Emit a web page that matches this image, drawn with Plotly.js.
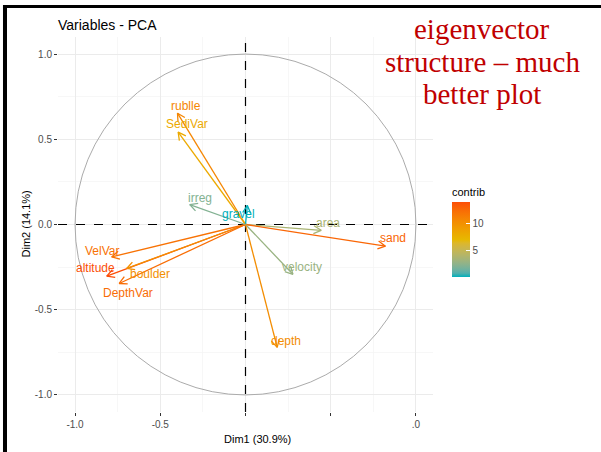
<!DOCTYPE html>
<html>
<head>
<meta charset="utf-8">
<script src="https://cdn.plot.ly/plotly-3.0.1.min.js"></script>
<style>html,body{margin:0;padding:0;background:#fff}#chart{width:601px;height:452px}</style>
</head>
<body>
<div id="chart"></div>
<script>
// ---- data ----
const variables = ['VelVar','altitude','boulder','DepthVar','rublle','SediVar','irreg','gravel','area','sand','velocity','depth'];
const dim1 = [-0.785,-0.814,-0.697,-0.741,-0.399,-0.395,-0.327,0.011,0.444,0.821,0.278,0.186];
const dim2 = [-0.190,-0.303,-0.258,-0.346,0.653,0.542,0.117,0.112,-0.034,-0.127,-0.292,-0.721];
const contrib = [12.1,14.0,10.2,12.4,10.8,8.3,2.2,0.2,3.7,12.8,3.0,10.3];
const xTickVals = [-1,-0.5,0,0.5,1];
const xTickText = ['-1.0','-0.5','','','.0'];
const yTickVals = [-1,-0.5,0,0.5,1];
const yTickText = ['-1.0','-0.5','0.0','0.5','1.0'];
const cbTicks = [5,10];

// ---- layout helpers (pixel nudges for labels, not data) ----
const labelShift = [[-10,6],[-11,8],[23,-6],[9,-10],[9,7],[9,8],[10,7],[-9,-9],[7,7],[8,8],[9,7],[9,6]];

const anchorCols = ['#00AFBB','#E7B800','#FC4E07'];
const cmin = Math.min(...contrib), cmax = Math.max(...contrib);

// Lab interpolation (as ggplot's gradient palette)
function hex2rgb(h){return [parseInt(h.slice(1,3),16),parseInt(h.slice(3,5),16),parseInt(h.slice(5,7),16)];}
function lin(c){c/=255;return c<=0.04045?c/12.92:Math.pow((c+0.055)/1.055,2.4);}
function unlin(c){const v=c<=0.0031308?12.92*c:1.055*Math.pow(c,1/2.4)-0.055;return Math.round(Math.max(0,Math.min(1,v))*255);}
const WN=[0.95047,1,1.08883];
function f(t){return t>Math.pow(6/29,3)?Math.cbrt(t):t/(3*Math.pow(6/29,2))+4/29;}
function finv(t){return t>6/29?t*t*t:3*Math.pow(6/29,2)*(t-4/29);}
function rgb2lab(rgb){const [r,g,b]=rgb.map(lin);
  const X=0.4124*r+0.3576*g+0.1805*b,Y=0.2126*r+0.7152*g+0.0722*b,Z=0.0193*r+0.1192*g+0.9505*b;
  const fx=f(X/WN[0]),fy=f(Y/WN[1]),fz=f(Z/WN[2]);return [116*fy-16,500*(fx-fy),200*(fy-fz)];}
function lab2rgb(lab){const fy=(lab[0]+16)/116,fx=fy+lab[1]/500,fz=fy-lab[2]/200;
  const X=WN[0]*finv(fx),Y=WN[1]*finv(fy),Z=WN[2]*finv(fz);
  const r=3.2406*X-1.5372*Y-0.4986*Z,g=-0.9689*X+1.8758*Y+0.0415*Z,b=0.0557*X-0.2040*Y+1.0570*Z;
  return [unlin(r),unlin(g),unlin(b)];}
const anchorLab = anchorCols.map(c=>rgb2lab(hex2rgb(c)));
function colorAt(t){
  t=Math.max(0,Math.min(1,t));
  const n=anchorLab.length-1, seg=Math.min(n-1,Math.floor(t*n)), fr=t*n-seg;
  const a=anchorLab[seg],b=anchorLab[seg+1];
  const rgb=lab2rgb(a.map((x,k)=>x+(b[k]-x)*fr));
  return 'rgb('+rgb.join(',')+')';
}
function colorFor(v){return colorAt((v-cmin)/(cmax-cmin));}
const colorscale=[];for(let i=0;i<=20;i++){colorscale.push([i/20,colorAt(i/20)]);}

const traces = [];
const annotations = [];
const headLen = 0.05, headAng = 28*Math.PI/180;
variables.forEach((name,i)=>{
  const tx=dim1[i], ty=dim2[i];
  const r=Math.hypot(tx,ty), dx=tx/r, dy=ty/r;
  const w=(a)=>[tx-headLen*(dx*Math.cos(a)-dy*Math.sin(a)), ty-headLen*(dx*Math.sin(a)+dy*Math.cos(a))];
  const p1=w(headAng), p2=w(-headAng);
  const col=colorFor(contrib[i]);
  traces.push({type:'scatter',mode:'lines',x:[0,tx,null,p1[0],tx,p2[0]],y:[0,ty,null,p1[1],ty,p2[1]],
    line:{color:col,width:1.3},hoverinfo:'skip',showlegend:false});
  annotations.push({x:tx,y:ty,xref:'x',yref:'y',text:name,showarrow:false,
    xshift:labelShift[i][0],yshift:labelShift[i][1],xanchor:'center',yanchor:'middle',
    font:{family:'Liberation Sans, Arial, sans-serif',size:12,color:col}});
});
traces.push({type:'scatter',mode:'markers',x:dim1,y:dim2,hoverinfo:'skip',showlegend:false,
  marker:{size:2,opacity:0,color:contrib,cmin:cmin,cmax:cmax,colorscale:colorscale,showscale:true,
    colorbar:{x:1.0507,xanchor:'left',y:0.4827,yanchor:'middle',thickness:18,thicknessmode:'pixels',
      len:92,lenmode:'pixels',outlinewidth:0,xpad:0,ypad:0,tickmode:'array',tickvals:cbTicks,
      ticks:'inside',ticklen:4,tickcolor:'#ffffff',tickwidth:1,
      tickfont:{family:'Liberation Sans, Arial, sans-serif',size:10,color:'#4D4D4D'},
      title:{text:'contrib',side:'top',font:{family:'Liberation Sans, Arial, sans-serif',size:11,color:'#000'}}}}});

// red overlay text and axis titles
const serif='Liberation Serif, Times New Roman, serif';
[['eigenvector',1.0213],['structure – much',0.9333],['better plot',0.848]].forEach(([t,y])=>{
  annotations.push({xref:'paper',yref:'paper',x:1.1307,y:y,xanchor:'center',yanchor:'middle',showarrow:false,
    text:t,font:{family:serif,size:29,color:'#C00000'}});
});
annotations.push({xref:'paper',yref:'paper',x:0.5333,y:-0.072,xanchor:'center',yanchor:'middle',showarrow:false,
  text:'Dim1 (30.9%)',font:{family:'Liberation Sans, Arial, sans-serif',size:11,color:'#000'}});
annotations.push({xref:'paper',yref:'paper',x:-0.088,y:0.5,xanchor:'center',yanchor:'middle',showarrow:false,textangle:-90,
  text:'Dim2 (14.1%)',font:{family:'Liberation Sans, Arial, sans-serif',size:11,color:'#000'}});

const axisBase = {range:[-1.1,1.1],zeroline:false,showline:false,showgrid:true,gridcolor:'#EBEBEB',gridwidth:1,
  ticks:'outside',ticklen:3,tickwidth:1,tickcolor:'#333333',tickmode:'array',
  tickfont:{family:'Liberation Sans, Arial, sans-serif',size:10,color:'#4D4D4D'},
  minor:{tickmode:'array',tickvals:[-0.75,-0.25,0.25,0.75],showgrid:true,gridcolor:'#F3F3F3',gridwidth:0.7,ticks:''}};

const layout = {
  width:601,height:452,margin:{l:58,r:168,t:37,b:40},paper_bgcolor:'#fff',plot_bgcolor:'#fff',
  showlegend:false,
  title:{text:'Variables - PCA',xref:'paper',x:0,xanchor:'left',yref:'container',y:0.9447,yanchor:'middle',
    font:{family:'Liberation Sans, Arial, sans-serif',size:14,color:'#000'}},
  xaxis:Object.assign({},axisBase,{tickvals:xTickVals,ticktext:xTickText}),
  yaxis:Object.assign({},axisBase,{tickvals:yTickVals,ticktext:yTickText}),
  shapes:[
    {type:'circle',xref:'x',yref:'y',x0:-1,y0:-1,x1:1,y1:1,line:{color:'#ABABAB',width:1},layer:'between'},
    {type:'line',xref:'x',yref:'y',x0:-1.1,x1:1.1,y0:0,y1:0,line:{color:'#000',width:1.2,dash:'dash'},layer:'between'},
    {type:'line',xref:'x',yref:'y',x0:0,x1:0,y0:-1.1,y1:1.1,line:{color:'#000',width:1.2,dash:'dash'},layer:'between'},
    {type:'rect',xref:'paper',yref:'paper',x0:-0.1467,x1:-0.136,y0:-0.11,y1:1.0853,fillcolor:'#000',line:{width:0},layer:'above'},
    {type:'rect',xref:'paper',yref:'paper',x0:-0.1467,x1:1.45,y0:1.0773,y1:1.0853,fillcolor:'#000',line:{width:0},layer:'above'}
  ],
  annotations:annotations
};
Plotly.newPlot('chart',traces,layout,{staticPlot:true,displayModeBar:false});
</script>
</body>
</html>
